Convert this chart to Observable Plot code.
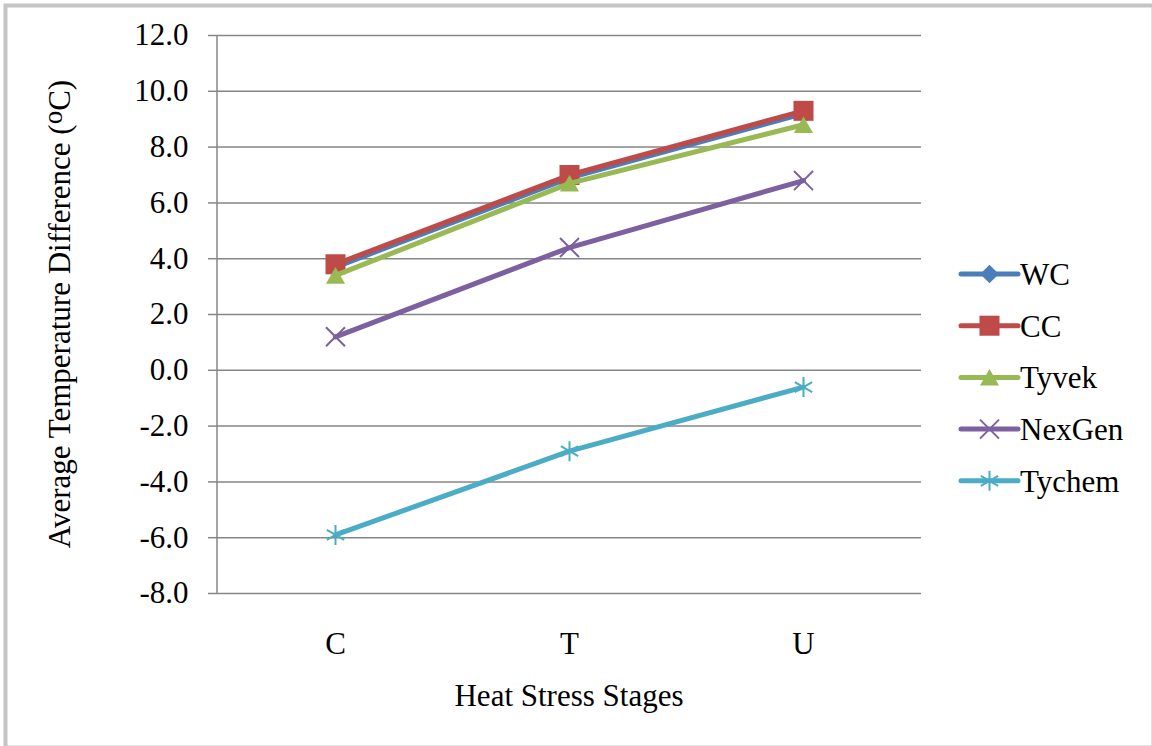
<!DOCTYPE html>
<html>
<head>
<meta charset="utf-8">
<script src="https://cdn.jsdelivr.net/npm/d3@7"></script>
<script src="https://cdn.jsdelivr.net/npm/@observablehq/plot@0.6"></script>
<style>
  html, body { margin: 0; padding: 0; background: #fff; }
  #chart { position: relative; width: 1152px; height: 746px; }
</style>
</head>
<body>
<div id="chart"></div>
<script>
// ---- data ----
const stages = ["C", "T", "U"];
const seriesNames = ["WC", "CC", "Tyvek", "NexGen", "Tychem"];
const WC = [3.7, 6.9, 9.2];
const CC = [3.8, 7.0, 9.3];
const Tyvek = [3.4, 6.7, 8.8];
const NexGen = [1.2, 4.4, 6.8];
const Tychem = [-5.9, -2.9, -0.6];
const yTicks = [-8, -6, -4, -2, 0, 2, 4, 6, 8, 10, 12];
const xLabel = "Heat Stress Stages";
const yLabel = "Average Temperature Difference (";
const yLabelSup = "o";
const yLabelEnd = "C)";

// ---- styles ----
const colors = {WC: "#4a7ebb", CC: "#be4b48", Tyvek: "#98b954", NexGen: "#7d60a0", Tychem: "#4bacc6"};
const symbols = {WC: "diamond2", CC: "square", Tyvek: "triangle", NexGen: "times", Tychem: "asterisk"};
const filled = {WC: true, CC: true, Tyvek: true, NexGen: false, Tychem: false};
const radius = {WC: 8.4, CC: 11.3, Tyvek: 7.1, NexGen: 8.7, Tychem: 9.5};
const dyOff = {WC: 0, CC: 0, Tyvek: 2.7, NexGen: 0, Tychem: 0};
const values = {WC, CC, Tyvek, NexGen, Tychem};

const rows = seriesNames.map(name => stages.map((s, i) => ({series: name, stage: s, value: values[name][i]})));

const font = "'Liberation Serif', 'Times New Roman', serif";
const gridColor = "#868686";

const marks = [
  Plot.gridY(yTicks, {stroke: gridColor, strokeOpacity: 1, strokeWidth: 1.5}),
  Plot.axisY(yTicks, {tickSize: 9, tickPadding: 20, tickFormat: d => d.toFixed(1), stroke: gridColor, strokeWidth: 1.5, strokeOpacity: 1, label: null, fill: "#000"}),
  Plot.axisX(stages, {tickSize: 0, tickPadding: 38, label: null, fill: "#000"})
];
seriesNames.forEach((name, k) => {
  marks.push(Plot.line(rows[k], {x: "stage", y: "value", stroke: colors[name], strokeWidth: 5, strokeLinejoin: "round", strokeLinecap: "round"}));
  marks.push(Plot.dot(rows[k], {
    x: "stage", y: "value", symbol: () => symbols[name], r: radius[name], dy: dyOff[name],
    fill: filled[name] ? colors[name] : "none",
    stroke: filled[name] ? "none" : colors[name], strokeWidth: 2
  }));
});

const chart = Plot.plot({
  width: 1152, height: 746,
  marginLeft: 217, marginRight: 231, marginTop: 35, marginBottom: 153,
  style: {fontFamily: font, fontSize: "31px", color: "#000", background: "#fff", overflow: "visible"},
  x: {type: "point", domain: stages, padding: 0.5},
  y: {domain: [-8, 12]},
  marks
});

document.getElementById("chart").appendChild(chart);

const svg = d3.select(chart);
const xr = chart.scale("x").range;
const yScale = chart.scale("y");
const yTop = yScale.apply(12), yBottom = yScale.apply(-8);
const xLeft = xr[0], xRight = xr[1];

// y axis line
svg.append("line")
  .attr("x1", xLeft).attr("x2", xLeft).attr("y1", yTop).attr("y2", yBottom)
  .attr("stroke", gridColor).attr("stroke-width", 1.5);

// outer border
svg.append("rect")
  .attr("x", 5.5).attr("y", 5.5).attr("width", 1148).attr("height", 742)
  .attr("fill", "none").attr("stroke", "#c4c4c4").attr("stroke-width", 4);

// x axis label
svg.append("text")
  .attr("x", (xLeft + xRight) / 2).attr("y", yBottom + 113)
  .attr("text-anchor", "middle").attr("font-size", 31).attr("font-family", font).attr("fill", "#000")
  .text(xLabel);

// y axis label
const yl = svg.append("text")
  .attr("transform", `translate(${70},${(yTop + yBottom) / 2}) rotate(-90)`)
  .attr("text-anchor", "middle").attr("font-size", 31).attr("font-family", font).attr("fill", "#000");
yl.append("tspan").text(yLabel);
yl.append("tspan").attr("dy", -8).attr("font-size", 27).text(yLabelSup);
yl.append("tspan").attr("dy", 8).text(yLabelEnd);

// legend
const legX0 = xRight + 40, legX1 = xRight + 97, legY0 = 274, legStep = 51.7;
const sym = {diamond2: d3.symbolDiamond2, square: d3.symbolSquare, triangle: d3.symbolTriangle, times: d3.symbolTimes, asterisk: d3.symbolAsterisk};
const lg = svg.append("g").attr("text-anchor", "start");
seriesNames.forEach((name, i) => {
  const y = legY0 + i * legStep;
  const g = lg.append("g");
  g.append("line").attr("x1", legX0).attr("x2", legX1).attr("y1", y).attr("y2", y)
    .attr("stroke", colors[name]).attr("stroke-width", 5).attr("stroke-linecap", "round");
  const r = radius[name];
  g.append("path")
    .attr("transform", `translate(${(legX0 + legX1) / 2},${y + dyOff[name]})`)
    .attr("d", d3.symbol(sym[symbols[name]], Math.PI * r * r)())
    .attr("fill", filled[name] ? colors[name] : "none")
    .attr("stroke", filled[name] ? "none" : colors[name]).attr("stroke-width", 2);
  g.append("text").attr("x", legX1 + 2).attr("y", y).attr("dy", "0.35em")
    .attr("text-anchor", "start")
    .attr("font-size", 31).attr("font-family", font).attr("fill", "#000").text(name);
});
</script>
</body>
</html>
